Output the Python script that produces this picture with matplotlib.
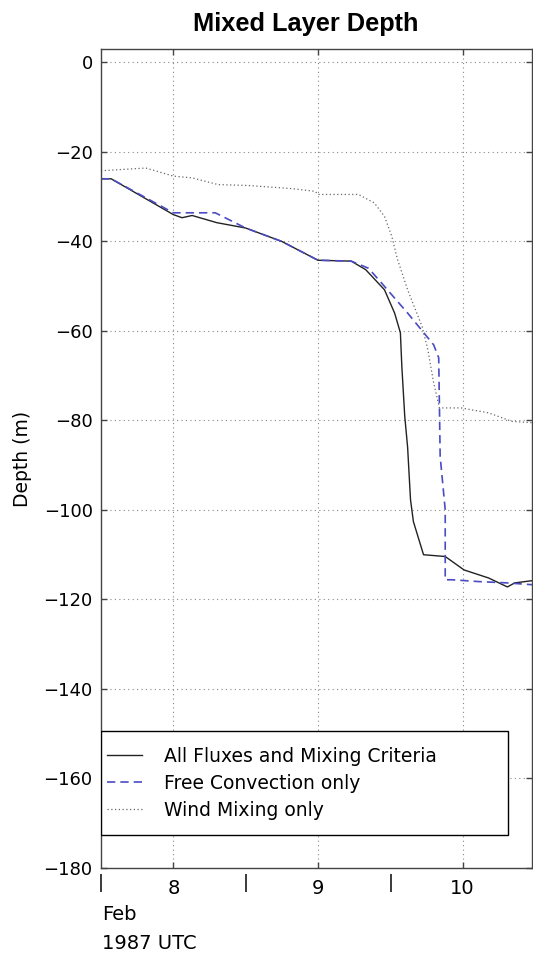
import matplotlib
matplotlib.use("Agg")
import matplotlib.pyplot as plt
from matplotlib.patches import Rectangle
from matplotlib.ticker import FixedLocator, FixedFormatter

# days of Feb 1987 (UTC)
t_all = [7.5, 7.57, 8.0, 8.06, 8.13, 8.3, 8.5, 8.75, 9.0, 9.23, 9.33, 9.46,
         9.53, 9.57, 9.58, 9.60, 9.62, 9.64, 9.66, 9.73, 9.88, 10.01, 10.18,
         10.31, 10.36, 10.48]
d_all = [-26, -26, -34, -34.7, -34.2, -35.8, -37, -40, -44.2, -44.4, -46.3,
         -50.8, -56, -60.4, -67.9, -79, -86, -97.7, -102.6, -110, -110.4,
         -113.4, -115.2, -117.2, -116.3, -115.8]

t_conv = [7.5, 7.57, 8.0, 8.29, 8.5, 8.75, 9.0, 9.23, 9.35, 9.44, 9.62, 9.80,
          9.835, 9.845, 9.88, 9.88, 9.93, 10.11, 10.31, 10.48]
d_conv = [-26, -26, -33.6, -33.6, -37, -40, -44.2, -44.4, -46, -49.3, -56,
          -63.1, -66, -88, -100, -115.6, -115.6, -116, -116.3, -116.7]

t_wind = [7.5, 7.81, 8.0, 8.13, 8.31, 8.52, 8.82, 8.98, 9.0, 9.28, 9.39, 9.46,
          9.51, 9.55, 9.62, 9.72, 9.76, 9.80, 9.84, 9.99, 10.18, 10.34, 10.48]
d_wind = [-24.2, -23.6, -25.4, -25.8, -27.3, -27.5, -28.2, -28.8, -29.5,
          -29.5, -31.4, -34.4, -38.8, -44, -50.8, -59, -64.2, -71.6, -77.2,
          -77.2, -78.3, -80.2, -80.5]

day_ticks = [8, 9, 10]
day_labels = ['8', '9', '10']
half_ticks = [7.5, 8.5, 9.5]
depth_ticks = list(range(0, -181, -20))

fig = plt.figure(figsize=(5.33, 9.55), dpi=100)
ax = fig.add_axes([101 / 533, 87 / 955, 431 / 533, 819 / 955])

ax.plot(t_all, d_all, color='#222222', lw=1.0, label='All Fluxes and Mixing Criteria')
ax.plot(t_conv, d_conv, color='#4b4bc4', lw=1.2, ls=(0, (5, 3)), label='Free Convection only')
ax.plot(t_wind, d_wind, color='#666666', lw=0.9, ls=(0, (1, 2)), label='Wind Mixing only')

ax.set_xlim(7.5, 10.48)
ax.set_ylim(-180, 3)
ax.set_yticks(depth_ticks)
ax.xaxis.set_major_locator(FixedLocator(day_ticks))
ax.xaxis.set_major_formatter(FixedFormatter(day_labels))
ax.xaxis.set_minor_locator(FixedLocator(half_ticks))
ax.xaxis.set_minor_formatter(FixedFormatter(['|'] * 3))

ax.grid(True, which='major', color='#888888', ls=(0, (1, 3)), lw=0.8)
ax.tick_params(which='major', direction='in', length=4, width=1, color='#444444',
               top=True, right=True)
ax.tick_params(axis='y', labelsize=13, pad=6)
ax.tick_params(axis='x', which='major', labelsize=14, pad=8)
ax.tick_params(axis='x', which='minor', length=0, labelsize=13, pad=4)
for s in ax.spines.values():
    s.set_color('#444444')
    s.set_linewidth(1.0)

fig.text(306 / 533, (955 - 31) / 955, 'Mixed Layer Depth',
         ha='center', va='baseline', fontsize=18.3, fontweight='bold',
         family='Liberation Sans')
ax.text(-0.183, 0.5, 'Depth (m)', transform=ax.transAxes, rotation=90,
        ha='center', va='center', fontsize=13.5)

fig.text(102 / 533, (955 - 920) / 955, 'Feb', fontsize=14, va='baseline')
fig.text(102 / 533, (955 - 949) / 955, '1987 UTC', fontsize=14, va='baseline')

# legend box drawn separately so the entries can sit close to its left edge
ax.add_patch(Rectangle((0, 0.0403), 0.944, 0.1267, transform=ax.transAxes,
                       facecolor='white', edgecolor='black', lw=1.0, zorder=4))
leg = ax.legend(loc='center left', bbox_to_anchor=(0, 0.1032),
                borderaxespad=0, fontsize=13.5, frameon=False,
                handlelength=1.9, handletextpad=1.15, labelspacing=0.43,
                borderpad=0.3)
leg.set_zorder(5)

fig.savefig('out.png', dpi=100)
